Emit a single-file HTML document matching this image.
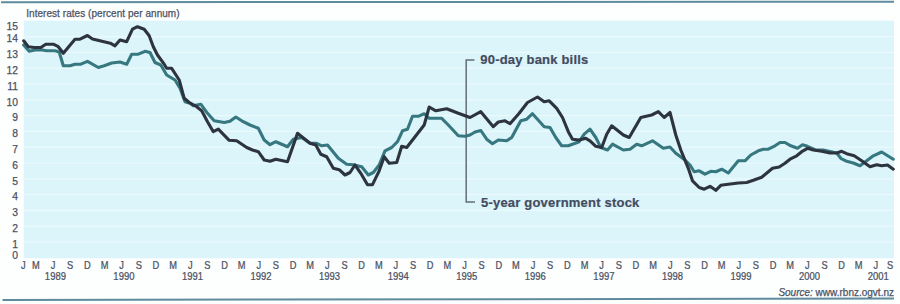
<!DOCTYPE html><html><head><meta charset="utf-8"><style>html,body{margin:0;padding:0;background:#fdfefe;}svg{display:block;font-family:"Liberation Sans",sans-serif;} text{stroke:#4c5263;stroke-width:0.25px;} text.b{stroke:#444b5f;stroke-width:0.2px;}</style></head><body>
<svg width="900" height="304" viewBox="0 0 900 304">
<rect x="0" y="0" width="900" height="304" fill="#fdfefe"/>
<line x1="1" y1="2.2" x2="894" y2="1.8" stroke="#5e8c9c" stroke-width="2"/>
<line x1="2.5" y1="300" x2="894" y2="298.6" stroke="#5e8c9c" stroke-width="2"/>
<text x="26.2" y="16.5" font-size="10" letter-spacing="0.05" fill="#4c5263">Interest rates (percent per annum)</text>
<rect x="23.8" y="20.7" width="870.2" height="237.5" fill="#dbf5fa"/>
<line x1="23.8" y1="242.0" x2="894" y2="242.0" stroke="#ecfafd" stroke-width="1.2"/>
<line x1="23.8" y1="226.2" x2="894" y2="226.2" stroke="#ecfafd" stroke-width="1.2"/>
<line x1="23.8" y1="210.4" x2="894" y2="210.4" stroke="#ecfafd" stroke-width="1.2"/>
<line x1="23.8" y1="194.6" x2="894" y2="194.6" stroke="#ecfafd" stroke-width="1.2"/>
<line x1="23.8" y1="178.8" x2="894" y2="178.8" stroke="#ecfafd" stroke-width="1.2"/>
<line x1="23.8" y1="163.0" x2="894" y2="163.0" stroke="#ecfafd" stroke-width="1.2"/>
<line x1="23.8" y1="147.2" x2="894" y2="147.2" stroke="#ecfafd" stroke-width="1.2"/>
<line x1="23.8" y1="131.4" x2="894" y2="131.4" stroke="#ecfafd" stroke-width="1.2"/>
<line x1="23.8" y1="115.6" x2="894" y2="115.6" stroke="#ecfafd" stroke-width="1.2"/>
<line x1="23.8" y1="99.8" x2="894" y2="99.8" stroke="#ecfafd" stroke-width="1.2"/>
<line x1="23.8" y1="84.0" x2="894" y2="84.0" stroke="#ecfafd" stroke-width="1.2"/>
<line x1="23.8" y1="68.2" x2="894" y2="68.2" stroke="#ecfafd" stroke-width="1.2"/>
<line x1="23.8" y1="52.4" x2="894" y2="52.4" stroke="#ecfafd" stroke-width="1.2"/>
<line x1="23.8" y1="36.6" x2="894" y2="36.6" stroke="#ecfafd" stroke-width="1.2"/>
<text x="18.0" y="259.2" font-size="10.3" text-anchor="end" fill="#4c5263">0</text>
<text x="18.0" y="247.7" font-size="10.3" text-anchor="end" fill="#4c5263">1</text>
<text x="18.0" y="231.9" font-size="10.3" text-anchor="end" fill="#4c5263">2</text>
<text x="18.0" y="216.1" font-size="10.3" text-anchor="end" fill="#4c5263">3</text>
<text x="18.0" y="200.3" font-size="10.3" text-anchor="end" fill="#4c5263">4</text>
<text x="18.0" y="184.5" font-size="10.3" text-anchor="end" fill="#4c5263">5</text>
<text x="18.0" y="168.7" font-size="10.3" text-anchor="end" fill="#4c5263">6</text>
<text x="18.0" y="152.9" font-size="10.3" text-anchor="end" fill="#4c5263">7</text>
<text x="18.0" y="137.1" font-size="10.3" text-anchor="end" fill="#4c5263">8</text>
<text x="18.0" y="121.3" font-size="10.3" text-anchor="end" fill="#4c5263">9</text>
<text x="18.0" y="105.5" font-size="10.3" text-anchor="end" fill="#4c5263">10</text>
<text x="18.0" y="89.7" font-size="10.3" text-anchor="end" fill="#4c5263">11</text>
<text x="18.0" y="73.9" font-size="10.3" text-anchor="end" fill="#4c5263">12</text>
<text x="18.0" y="58.1" font-size="10.3" text-anchor="end" fill="#4c5263">13</text>
<text x="18.0" y="42.3" font-size="10.3" text-anchor="end" fill="#4c5263">14</text>
<text x="18.0" y="29.8" font-size="10.3" text-anchor="end" fill="#4c5263">15</text>
<text transform="translate(23.3,269.4) scale(0.9,1)" font-size="10.3" text-anchor="middle" fill="#4c5263">J</text>
<text transform="translate(35.9,269.4) scale(0.9,1)" font-size="10.3" text-anchor="middle" fill="#4c5263">M</text>
<text transform="translate(53.1,269.4) scale(0.9,1)" font-size="10.3" text-anchor="middle" fill="#4c5263">J</text>
<text transform="translate(70.2,269.4) scale(0.9,1)" font-size="10.3" text-anchor="middle" fill="#4c5263">S</text>
<text transform="translate(87.4,269.4) scale(0.9,1)" font-size="10.3" text-anchor="middle" fill="#4c5263">D</text>
<text transform="translate(55.4,279.5) scale(0.93,1)" font-size="10.2" text-anchor="middle" fill="#4c5263">1989</text>
<text transform="translate(104.5,269.4) scale(0.9,1)" font-size="10.3" text-anchor="middle" fill="#4c5263">M</text>
<text transform="translate(121.6,269.4) scale(0.9,1)" font-size="10.3" text-anchor="middle" fill="#4c5263">J</text>
<text transform="translate(138.8,269.4) scale(0.9,1)" font-size="10.3" text-anchor="middle" fill="#4c5263">S</text>
<text transform="translate(155.9,269.4) scale(0.9,1)" font-size="10.3" text-anchor="middle" fill="#4c5263">D</text>
<text transform="translate(123.9,279.5) scale(0.93,1)" font-size="10.2" text-anchor="middle" fill="#4c5263">1990</text>
<text transform="translate(173.1,269.4) scale(0.9,1)" font-size="10.3" text-anchor="middle" fill="#4c5263">M</text>
<text transform="translate(190.2,269.4) scale(0.9,1)" font-size="10.3" text-anchor="middle" fill="#4c5263">J</text>
<text transform="translate(207.3,269.4) scale(0.9,1)" font-size="10.3" text-anchor="middle" fill="#4c5263">S</text>
<text transform="translate(224.5,269.4) scale(0.9,1)" font-size="10.3" text-anchor="middle" fill="#4c5263">D</text>
<text transform="translate(192.5,279.5) scale(0.93,1)" font-size="10.2" text-anchor="middle" fill="#4c5263">1991</text>
<text transform="translate(241.6,269.4) scale(0.9,1)" font-size="10.3" text-anchor="middle" fill="#4c5263">M</text>
<text transform="translate(258.8,269.4) scale(0.9,1)" font-size="10.3" text-anchor="middle" fill="#4c5263">J</text>
<text transform="translate(275.9,269.4) scale(0.9,1)" font-size="10.3" text-anchor="middle" fill="#4c5263">S</text>
<text transform="translate(293.1,269.4) scale(0.9,1)" font-size="10.3" text-anchor="middle" fill="#4c5263">D</text>
<text transform="translate(261.1,279.5) scale(0.93,1)" font-size="10.2" text-anchor="middle" fill="#4c5263">1992</text>
<text transform="translate(310.2,269.4) scale(0.9,1)" font-size="10.3" text-anchor="middle" fill="#4c5263">M</text>
<text transform="translate(327.3,269.4) scale(0.9,1)" font-size="10.3" text-anchor="middle" fill="#4c5263">J</text>
<text transform="translate(344.5,269.4) scale(0.9,1)" font-size="10.3" text-anchor="middle" fill="#4c5263">S</text>
<text transform="translate(361.6,269.4) scale(0.9,1)" font-size="10.3" text-anchor="middle" fill="#4c5263">D</text>
<text transform="translate(329.6,279.5) scale(0.93,1)" font-size="10.2" text-anchor="middle" fill="#4c5263">1993</text>
<text transform="translate(378.8,269.4) scale(0.9,1)" font-size="10.3" text-anchor="middle" fill="#4c5263">M</text>
<text transform="translate(395.9,269.4) scale(0.9,1)" font-size="10.3" text-anchor="middle" fill="#4c5263">J</text>
<text transform="translate(413.1,269.4) scale(0.9,1)" font-size="10.3" text-anchor="middle" fill="#4c5263">S</text>
<text transform="translate(430.2,269.4) scale(0.9,1)" font-size="10.3" text-anchor="middle" fill="#4c5263">D</text>
<text transform="translate(398.2,279.5) scale(0.93,1)" font-size="10.2" text-anchor="middle" fill="#4c5263">1994</text>
<text transform="translate(447.3,269.4) scale(0.9,1)" font-size="10.3" text-anchor="middle" fill="#4c5263">M</text>
<text transform="translate(464.5,269.4) scale(0.9,1)" font-size="10.3" text-anchor="middle" fill="#4c5263">J</text>
<text transform="translate(481.6,269.4) scale(0.9,1)" font-size="10.3" text-anchor="middle" fill="#4c5263">S</text>
<text transform="translate(498.8,269.4) scale(0.9,1)" font-size="10.3" text-anchor="middle" fill="#4c5263">D</text>
<text transform="translate(466.8,279.5) scale(0.93,1)" font-size="10.2" text-anchor="middle" fill="#4c5263">1995</text>
<text transform="translate(515.9,269.4) scale(0.9,1)" font-size="10.3" text-anchor="middle" fill="#4c5263">M</text>
<text transform="translate(533.0,269.4) scale(0.9,1)" font-size="10.3" text-anchor="middle" fill="#4c5263">J</text>
<text transform="translate(550.2,269.4) scale(0.9,1)" font-size="10.3" text-anchor="middle" fill="#4c5263">S</text>
<text transform="translate(567.3,269.4) scale(0.9,1)" font-size="10.3" text-anchor="middle" fill="#4c5263">D</text>
<text transform="translate(535.3,279.5) scale(0.93,1)" font-size="10.2" text-anchor="middle" fill="#4c5263">1996</text>
<text transform="translate(584.5,269.4) scale(0.9,1)" font-size="10.3" text-anchor="middle" fill="#4c5263">M</text>
<text transform="translate(601.6,269.4) scale(0.9,1)" font-size="10.3" text-anchor="middle" fill="#4c5263">J</text>
<text transform="translate(618.8,269.4) scale(0.9,1)" font-size="10.3" text-anchor="middle" fill="#4c5263">S</text>
<text transform="translate(635.9,269.4) scale(0.9,1)" font-size="10.3" text-anchor="middle" fill="#4c5263">D</text>
<text transform="translate(603.9,279.5) scale(0.93,1)" font-size="10.2" text-anchor="middle" fill="#4c5263">1997</text>
<text transform="translate(653.0,269.4) scale(0.9,1)" font-size="10.3" text-anchor="middle" fill="#4c5263">M</text>
<text transform="translate(670.2,269.4) scale(0.9,1)" font-size="10.3" text-anchor="middle" fill="#4c5263">J</text>
<text transform="translate(687.3,269.4) scale(0.9,1)" font-size="10.3" text-anchor="middle" fill="#4c5263">S</text>
<text transform="translate(704.5,269.4) scale(0.9,1)" font-size="10.3" text-anchor="middle" fill="#4c5263">D</text>
<text transform="translate(672.5,279.5) scale(0.93,1)" font-size="10.2" text-anchor="middle" fill="#4c5263">1998</text>
<text transform="translate(721.6,269.4) scale(0.9,1)" font-size="10.3" text-anchor="middle" fill="#4c5263">M</text>
<text transform="translate(738.8,269.4) scale(0.9,1)" font-size="10.3" text-anchor="middle" fill="#4c5263">J</text>
<text transform="translate(755.9,269.4) scale(0.9,1)" font-size="10.3" text-anchor="middle" fill="#4c5263">S</text>
<text transform="translate(773.0,269.4) scale(0.9,1)" font-size="10.3" text-anchor="middle" fill="#4c5263">D</text>
<text transform="translate(741.0,279.5) scale(0.93,1)" font-size="10.2" text-anchor="middle" fill="#4c5263">1999</text>
<text transform="translate(790.2,269.4) scale(0.9,1)" font-size="10.3" text-anchor="middle" fill="#4c5263">M</text>
<text transform="translate(807.3,269.4) scale(0.9,1)" font-size="10.3" text-anchor="middle" fill="#4c5263">J</text>
<text transform="translate(824.5,269.4) scale(0.9,1)" font-size="10.3" text-anchor="middle" fill="#4c5263">S</text>
<text transform="translate(841.6,269.4) scale(0.9,1)" font-size="10.3" text-anchor="middle" fill="#4c5263">D</text>
<text transform="translate(809.6,279.5) scale(0.93,1)" font-size="10.2" text-anchor="middle" fill="#4c5263">2000</text>
<text transform="translate(858.7,269.4) scale(0.9,1)" font-size="10.3" text-anchor="middle" fill="#4c5263">M</text>
<text transform="translate(875.9,269.4) scale(0.9,1)" font-size="10.3" text-anchor="middle" fill="#4c5263">J</text>
<text transform="translate(890.0,269.4) scale(0.9,1)" font-size="10.3" text-anchor="middle" fill="#4c5263">S</text>
<text transform="translate(878.2,279.5) scale(0.93,1)" font-size="10.2" text-anchor="middle" fill="#4c5263">2001</text>
<text x="894" y="295.7" font-size="10" text-anchor="end" fill="#4c5263"><tspan font-style="italic">Source:</tspan> www.rbnz.ogvt.nz</text>
<path d="M474.5,60 H466.2 V202 H475" fill="none" stroke="#646d7b" stroke-width="1.5"/>
<polyline points="23.7,45.0 29.2,51.3 35.0,50.0 40.8,49.7 46.7,50.8 55.0,50.8 59.2,52.0 63.3,65.8 70.0,65.8 75.0,64.2 80.8,64.2 87.5,61.3 98.3,67.5 104.2,65.8 111.7,63.0 120.0,62.0 126.7,64.2 131.7,54.2 138.3,54.2 145.0,51.3 150.0,52.5 155.0,62.5 160.8,65.0 166.7,75.0 175.0,80.0 180.0,88.3 185.0,101.7 190.0,103.3 193.3,105.8 200.8,104.2 207.5,113.3 214.2,120.8 224.2,122.5 230.0,121.3 235.8,117.0 241.7,120.8 250.0,125.0 258.3,128.3 264.2,140.0 270.0,144.7 275.8,141.7 287.5,146.7 293.3,139.2 301.7,137.5 310.0,143.3 316.7,143.3 321.7,145.8 327.5,145.0 338.3,158.3 346.7,164.2 353.3,164.7 361.7,166.7 368.3,175.0 373.3,172.5 379.2,165.0 385.0,150.8 391.7,147.5 397.5,141.7 402.5,130.8 407.5,129.2 412.5,116.3 418.3,116.3 424.2,113.7 429.2,118.3 441.7,118.3 448.3,125.0 458.3,135.8 465.0,136.3 470.0,135.0 475.0,132.0 480.8,130.5 486.7,139.2 492.5,143.7 498.3,140.0 506.7,140.8 511.7,137.5 520.8,120.8 526.7,119.2 532.5,113.7 544.2,126.7 550.0,127.5 555.8,137.5 561.7,145.8 568.3,145.8 579.2,141.7 584.2,134.2 590.0,129.2 595.8,137.5 600.8,147.5 607.5,150.0 612.5,144.2 623.3,150.0 630.0,149.2 636.7,144.2 641.7,145.8 652.5,140.8 663.3,148.3 670.0,147.0 675.8,153.3 685.0,160.0 690.0,165.0 694.2,171.7 699.2,170.8 705.0,174.2 710.8,171.3 715.8,171.7 721.7,169.2 728.3,173.0 738.3,160.8 745.0,160.8 750.8,155.0 758.3,150.8 763.3,149.2 768.3,149.2 775.0,145.8 780.0,142.5 785.0,142.5 790.8,145.8 797.5,148.3 802.5,144.7 807.5,146.3 815.0,149.7 823.3,150.0 836.7,153.0 840.8,158.3 846.7,161.3 853.3,163.0 860.0,165.8 866.7,160.8 873.3,155.8 881.7,152.0 893.3,159.2" fill="none" stroke="#377780" stroke-width="3.1" stroke-linejoin="round" stroke-linecap="round"/>
<polyline points="23.7,40.8 28.3,46.7 34.2,47.5 40.8,47.5 45.8,44.2 53.3,44.2 58.3,46.7 63.3,53.3 75.0,39.2 80.0,39.2 87.4,35.5 92.5,39.0 110.3,43.2 115.0,45.8 120.0,40.0 126.7,41.7 132.5,29.2 137.5,26.7 144.2,29.2 149.2,35.8 153.3,46.7 157.5,55.0 164.2,64.2 166.7,68.3 171.7,68.3 179.2,80.0 184.2,98.3 189.2,102.5 196.7,106.7 201.7,110.8 207.5,121.7 213.3,131.7 218.3,129.2 229.2,140.3 236.7,140.8 246.7,147.5 252.5,150.0 258.3,151.7 264.2,160.0 270.0,161.3 275.8,159.2 287.5,161.7 297.5,133.3 310.0,143.3 315.8,145.0 320.8,154.2 326.7,156.7 333.3,168.3 339.2,169.7 345.0,175.0 350.0,172.5 355.0,165.0 360.8,173.3 367.5,184.7 372.5,184.7 379.2,170.8 384.2,156.7 389.2,163.3 396.7,162.5 401.7,146.3 406.7,147.5 424.2,125.0 429.2,107.0 435.8,110.8 446.7,108.7 458.3,113.3 470.0,117.5 480.8,111.7 493.3,126.7 498.3,122.0 505.0,120.8 510.0,123.7 519.2,113.3 527.5,102.5 537.5,97.0 544.2,101.7 549.2,100.8 556.7,108.3 562.5,117.5 568.3,131.7 572.5,139.2 579.2,140.0 585.8,138.3 590.0,140.8 595.8,146.3 601.7,147.5 606.7,134.2 611.7,125.8 623.3,135.0 629.2,137.5 640.8,117.5 651.7,115.0 658.3,111.7 664.2,117.5 670.0,112.5 675.8,135.0 680.8,150.0 688.3,168.3 692.5,180.8 699.2,187.5 704.2,189.2 710.0,186.3 715.8,190.3 720.8,185.3 728.3,184.2 738.3,183.0 746.7,182.5 753.3,180.3 761.7,177.2 772.5,168.3 779.2,167.0 785.0,163.3 790.0,159.2 796.7,155.8 801.7,151.7 807.5,148.3 813.3,150.0 821.7,151.3 830.0,153.0 836.7,153.0 841.7,151.3 846.7,153.7 854.2,155.8 861.7,160.8 870.0,166.7 876.7,164.7 881.7,165.8 887.5,165.0 893.3,169.2" fill="none" stroke="#2e343f" stroke-width="3.1" stroke-linejoin="round" stroke-linecap="round"/>
<text x="480.3" y="63.8" font-size="13" class="b" font-weight="bold" letter-spacing="0.2" fill="#444b5f">90-day bank bills</text>
<text x="481" y="207.2" font-size="13" class="b" font-weight="bold" letter-spacing="0.2" fill="#444b5f">5-year government stock</text>
</svg></body></html>
